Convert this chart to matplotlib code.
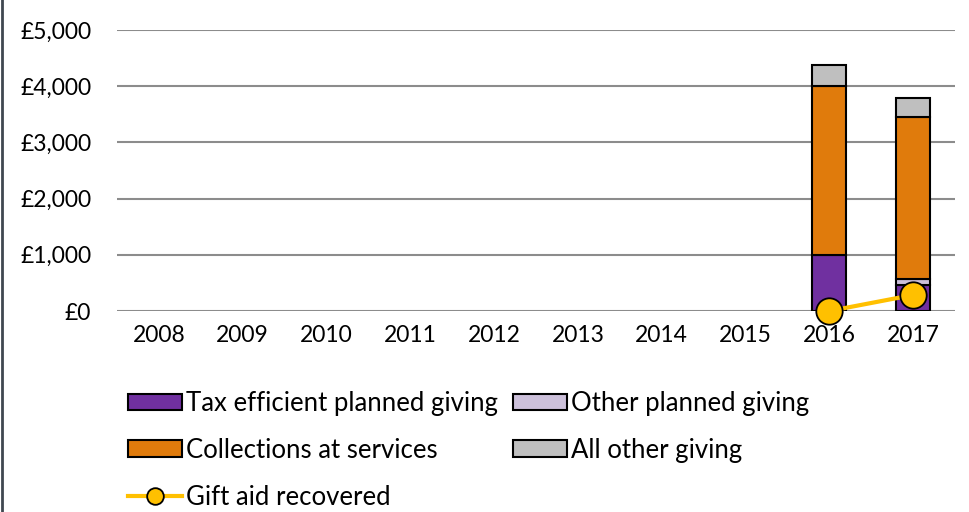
import matplotlib
matplotlib.use("Agg")
import matplotlib.pyplot as plt
from matplotlib.lines import Line2D
import numpy as np

plt.rcParams['font.family'] = ['Lato', 'DejaVu Sans']

years = ['2008', '2009', '2010', '2011', '2012', '2013', '2014', '2015', '2016', '2017']
tax_efficient = [0, 0, 0, 0, 0, 0, 0, 0, 1000, 470]
other_planned = [0, 0, 0, 0, 0, 0, 0, 0, 0, 95]
collections = [0, 0, 0, 0, 0, 0, 0, 0, 3000, 2890]
all_other = [0, 0, 0, 0, 0, 0, 0, 0, 380, 340]
gift_aid_years = ['2016', '2017']
gift_aid = [0, 285]

fig = plt.figure(figsize=(9.69, 5.12), dpi=100)
ax = fig.add_axes([117 / 969, 1 - 311 / 512, 838 / 969, 281 / 512])

x = np.arange(len(years))
w = 0.41
series = [
    (tax_efficient, '#7030a0', 'Tax efficient planned giving'),
    (other_planned, '#ccc0da', 'Other planned giving'),
    (collections, '#e07b0c', 'Collections at services'),
    (all_other, '#bfbfbf', 'All other giving'),
]
bottom = np.zeros(len(years))
handles = {}
for vals, col, lab in series:
    vals = np.array(vals, dtype=float)
    mask = vals > 0
    ax.bar(x[mask], vals[mask], w, bottom=bottom[mask], color=col,
           edgecolor='black', linewidth=1.5, zorder=3)
    handles[lab] = plt.Rectangle((0, 0), 1, 1, facecolor=col, edgecolor='black', linewidth=1.5)
    bottom += vals

gx = [years.index(y) for y in gift_aid_years]
ax.plot(gx, gift_aid, color='#ffc000', linewidth=3, marker='o', markersize=19,
        markerfacecolor='#ffc000', markeredgecolor='black', markeredgewidth=1.3,
        zorder=5, clip_on=False)
gh = Line2D([], [], color='#ffc000', linewidth=3, marker='o', markersize=12,
            markerfacecolor='#ffc000', markeredgecolor='black', markeredgewidth=1.3)

ax.set_ylim(0, 5000)
ax.set_xlim(-0.5, len(years) - 0.5)
ax.set_yticks(np.arange(0, 5001, 1000))
ax.set_yticklabels(['£0', '£1,000', '£2,000', '£3,000', '£4,000', '£5,000'])
ax.set_xticks(x)
ax.set_xticklabels(years)
ax.tick_params(length=0, labelsize=16.5, colors='black')
ax.tick_params(axis='y', pad=18.5)
ax.tick_params(axis='x', pad=10)
ax.grid(axis='y', color='#8c8c8c', linewidth=1.5, zorder=0)
for s in ax.spines.values():
    s.set_visible(False)

order = ['Tax efficient planned giving', 'Collections at services']
hl = [handles[order[0]], handles[order[1]], gh,
      handles['Other planned giving'], handles['All other giving']]
ll = [order[0], order[1], 'Gift aid recovered', 'Other planned giving', 'All other giving']
fig.legend(hl, ll, ncol=2, loc='upper left', bbox_to_anchor=(115 / 969, 1 - 378 / 512),
           frameon=False, fontsize=18.5, handlelength=2.1, handleheight=0.6,
           handletextpad=0.15, columnspacing=0.6, labelspacing=0.85, borderpad=0)

fig.add_artist(Line2D([0.002, 0.002], [0, 1], transform=fig.transFigure,
                      color='#404850', linewidth=2))

fig.savefig('out.png', dpi=100)
